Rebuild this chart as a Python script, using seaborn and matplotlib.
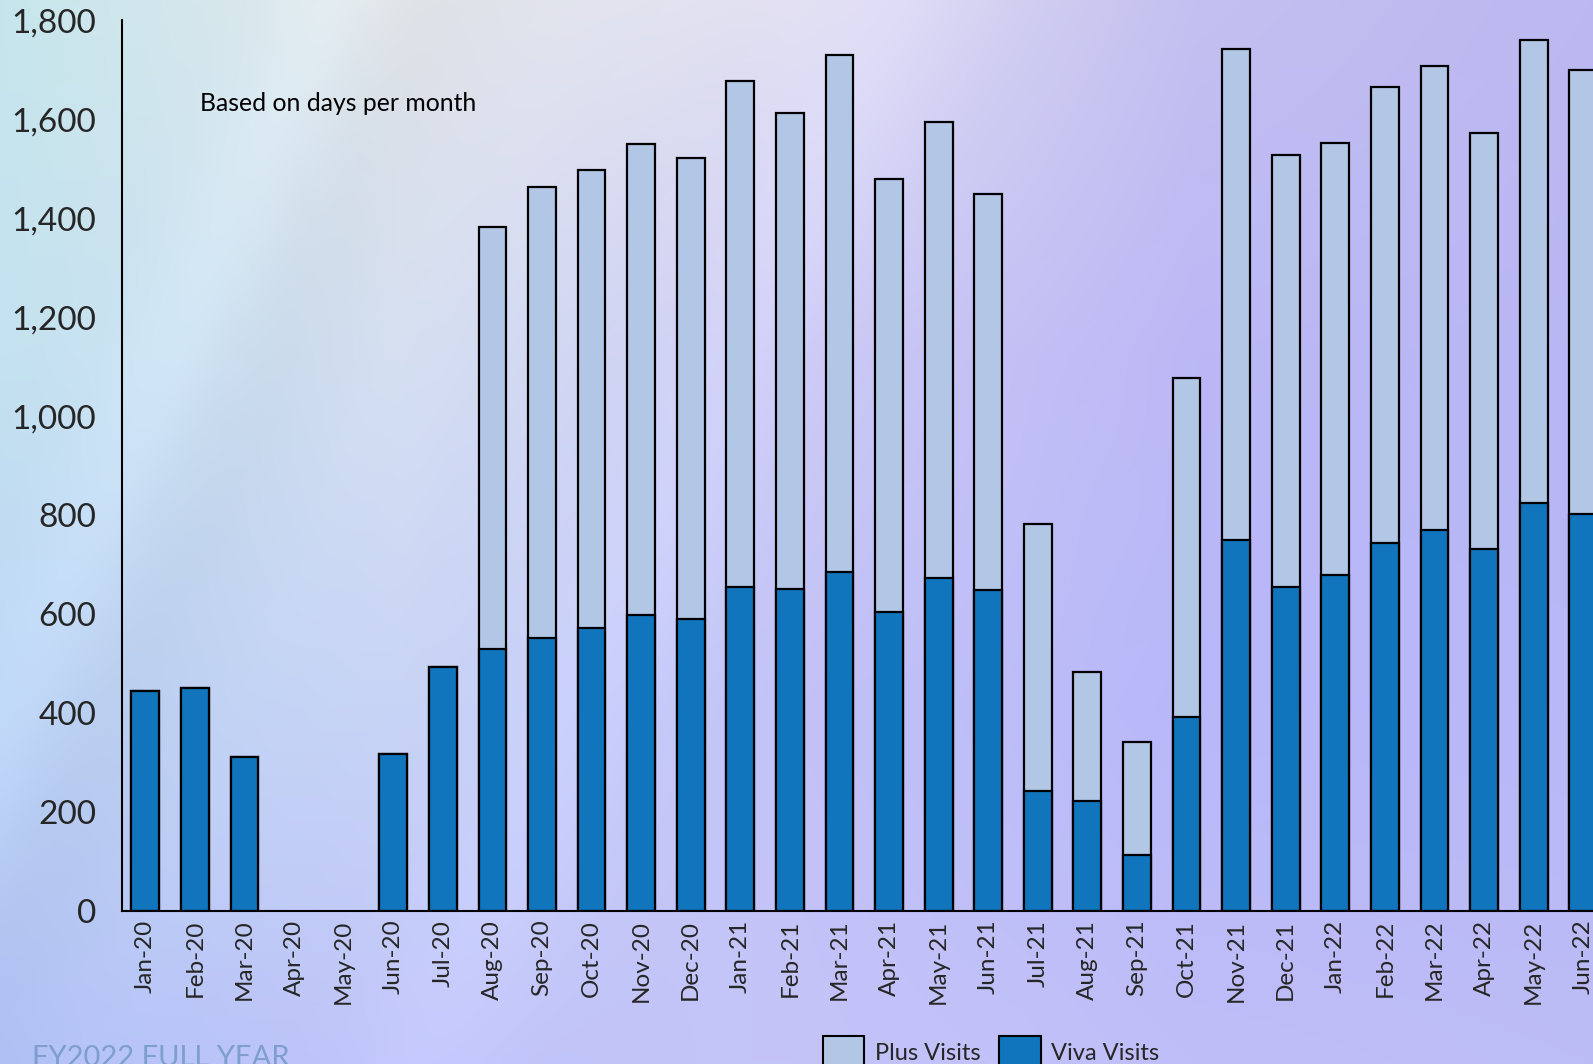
import numpy as np
import pandas as pd
import matplotlib
matplotlib.use("Agg")
import matplotlib.pyplot as plt
from matplotlib.patches import Patch
from matplotlib.colors import to_rgb
import seaborn as sns

months = ["Jan-20", "Feb-20", "Mar-20", "Apr-20", "May-20", "Jun-20", "Jul-20",
          "Aug-20", "Sep-20", "Oct-20", "Nov-20", "Dec-20", "Jan-21", "Feb-21",
          "Mar-21", "Apr-21", "May-21", "Jun-21", "Jul-21", "Aug-21", "Sep-21",
          "Oct-21", "Nov-21", "Dec-21", "Jan-22", "Feb-22", "Mar-22", "Apr-22",
          "May-22", "Jun-22"]
viva_visits = [445, 452, 312, 0, 0, 318, 493, 530, 552, 573, 599, 591, 655, 651,
               686, 605, 673, 649, 244, 222, 113, 392, 751, 655, 679, 745, 770,
               733, 825, 803]
plus_visits = [0, 0, 0, 0, 0, 0, 0, 853, 911, 925, 951, 930, 1022, 962,
               1044, 875, 922, 800, 538, 262, 230, 686, 992, 872, 873, 920, 938,
               839, 936, 897]
y_ticks = [0, 200, 400, 600, 800, 1000, 1200, 1400, 1600, 1800]

VIVA = "#1075bd"
PLUS = "#b2c6e6"

df = pd.DataFrame({"month": months, "viva": viva_visits, "plus": plus_visits})
df["total"] = df["viva"] + df["plus"]
# months with no visits get no bar outline at all
df["viva_bar"] = df["viva"].replace(0, np.nan)
df["total_bar"] = df["total"].replace(0, np.nan)

sns.set_theme(style="white")
plt.rcParams["font.family"] = ["Lato", "DejaVu Sans"]

W, H = 1593, 1064
fig = plt.figure(figsize=(W / 100, H / 100), dpi=100)

# soft gradient backdrop with faint diagonal sheen
bg_ax = fig.add_axes([0, 0, 1, 1], zorder=-10)
bg_ax.axis("off")
ny, nx = 200, 300
yy, xx = np.mgrid[0:1:ny * 1j, 0:1:nx * 1j]
grid_cols = [
    ["#c6e6ec", "#e4e8ec", "#e2e0f2", "#c4c0f0", "#bcb8f0"],
    ["#c4e2f0", "#d6e0f2", "#cccaf4", "#bcb8f6", "#b8b6f4"],
    ["#bcd4f4", "#c8d4f6", "#c2c2f8", "#b8b8fa", "#b8b8f8"],
    ["#b4c4f8", "#c0c4f8", "#c4c4f8", "#c0bef8", "#bcbcf6"],
]
gc = np.array([[to_rgb(c) for c in row] for row in grid_cols])
gy, gx = gc.shape[0] - 1, gc.shape[1] - 1
fy = yy * gy
fx = xx * gx
iy = np.clip(fy.astype(int), 0, gy - 1)
ix = np.clip(fx.astype(int), 0, gx - 1)
ty = (fy - iy)[..., None]
tx = (fx - ix)[..., None]
img = (gc[iy, ix] * (1 - ty) * (1 - tx) + gc[iy, ix + 1] * (1 - ty) * tx
       + gc[iy + 1, ix] * ty * (1 - tx) + gc[iy + 1, ix + 1] * ty * tx)
# diagonal light streaks
d = xx * W + yy * H * 0.45
for c0, wdt, amp in [(330, 60, 0.025), (430, 90, -0.02), (900, 80, 0.02)]:
    band = np.exp(-((d - c0) / wdt) ** 2)
    img = img + amp * band[..., None]
img = np.clip(img, 0, 1)
bg_ax.imshow(img, extent=[0, 1, 0, 1], aspect="auto", interpolation="bilinear")
bg_ax.set_xlim(0, 1)
bg_ax.set_ylim(0, 1)

ax = fig.add_axes([122 / W, (H - 911.4) / H, 1486 / W, (911.4 - 20.3) / H])
ax.patch.set_alpha(0)

sns.barplot(data=df, x="month", y="total_bar", color=PLUS, edgecolor="black",
            linewidth=1.6, width=0.56, saturation=1, ax=ax)
sns.barplot(data=df, x="month", y="viva_bar", color=VIVA, edgecolor="black",
            linewidth=1.6, width=0.56, saturation=1, ax=ax)

ax.set_xlim(-0.47, 29.5)
ax.set_ylim(0, 1800)
ax.set_yticks(y_ticks)
ax.set_yticklabels([f"{v:,}" for v in y_ticks], fontsize=24)
ax.tick_params(axis="y", length=0, pad=18.5)
ax.tick_params(axis="x", length=0, pad=6, labelsize=17.5, rotation=90)
ax.set_xlabel("")
ax.set_ylabel("")
for s in ["top", "right"]:
    ax.spines[s].set_visible(False)
for s in ["left", "bottom"]:
    ax.spines[s].set_color("black")
    ax.spines[s].set_linewidth(1.5)

ax.text(0.0525, 0.907, "Based on days per month", transform=ax.transAxes,
        fontsize=17.8, color="black", va="center", ha="left")

handles = [Patch(facecolor=PLUS, edgecolor="black", linewidth=1.5, label="Plus Visits"),
           Patch(facecolor=VIVA, edgecolor="black", linewidth=1.5, label="Viva Visits")]
fig.legend(handles=handles, loc="upper left", bbox_to_anchor=(823 / W, 1 - 1036 / H),
           ncol=2, frameon=False, fontsize=17, handlelength=1.75, handleheight=1.75,
           columnspacing=0.8, handletextpad=0.45, borderaxespad=0, borderpad=0)

fig.text(32 / W, 1 - 1045 / H, "FY2022 FULL YEAR", fontsize=21, color="#7b9ccc",
         ha="left", va="top", alpha=0.95)

fig.savefig("out.png", dpi=100)
